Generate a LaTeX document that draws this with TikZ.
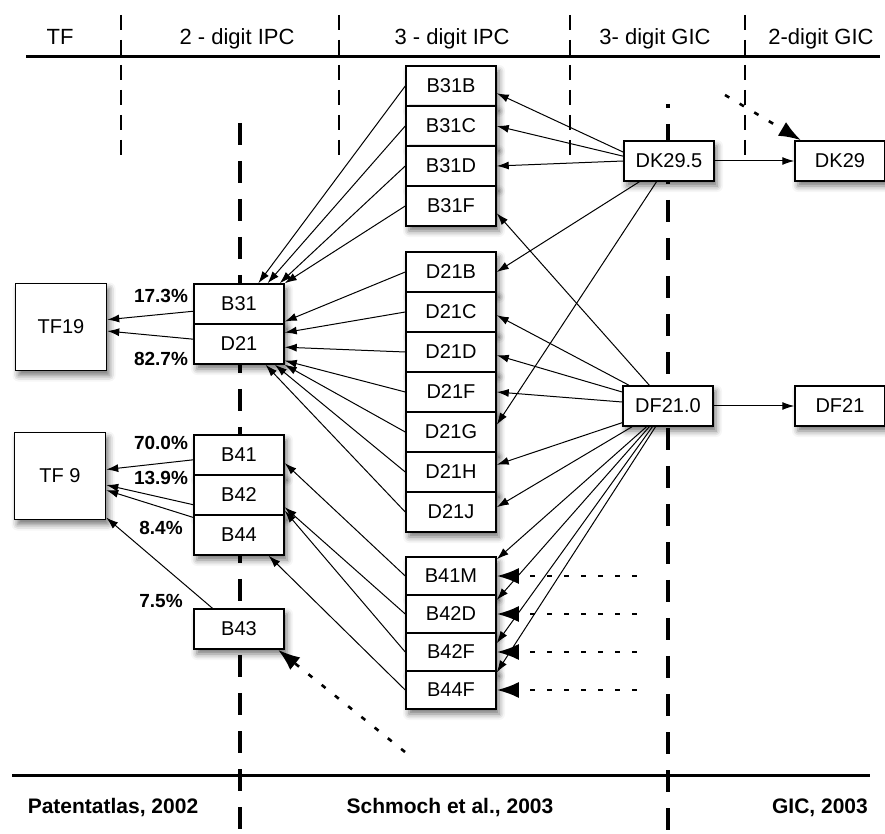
\documentclass[tikz,border=0pt]{standalone}
\usepackage{fontspec}
\setmainfont{Liberation Sans}
\usetikzlibrary{arrows.meta,shadows.blur}

\begin{document}
\begin{tikzpicture}[x=0.5pt,y=-0.5pt,node distance=20pt,
    cell/.style={draw,fill=white,line width=0.75pt,inner sep=0pt,
      minimum width=45pt,minimum height=20pt,font=\fontsize{10}{12}\selectfont,
      blur shadow={shadow xshift=1.5pt,shadow yshift=-2.5pt,shadow blur radius=3pt,shadow opacity=55}},
    low/.style={cell,minimum height=19pt,node distance=19pt},
    tf/.style={cell,minimum width=45.5pt,minimum height=43.5pt},
    arr/.style={line width=0.5pt,-{Latex[length=6pt,width=4pt]}},
    hint/.style={line width=1.3pt,dash pattern=on 2.5pt off 6pt,-{Latex[length=11pt,width=8pt]}},
    sep/.style={line width=1.4pt,dash pattern=on 7.5pt off 5pt},
    axis/.style={line width=2pt,dash pattern=on 11pt off 8pt},
    rule/.style={line width=1.5pt},
    head/.style={anchor=base,font=\fontsize{11}{13}\selectfont},
    src/.style={anchor=base,font=\bfseries\fontsize{10.5}{12}\selectfont},
    pct/.style={font=\bfseries\fontsize{9.5}{11}\selectfont}]

  \useasboundingbox (0,0) rectangle (885,834);

  % headers and rules
  \node[head] (hTF)   at (60,45)  {TF};
  \node[head] (hIPC2) at (237,45) {2 - digit IPC};
  \node[head] (hIPC3) at (452,45) {3 - digit IPC};
  \node[head] (hGIC3) at (655,45) {3- digit GIC};
  \node[head] (hGIC2) at (821,45) {2-digit GIC};

  \draw[rule] (26,57) -- (880,57);
  \draw[rule] (12,775) -- (870,775);
  \foreach \x in {121,339,570,745}
    \draw[sep] (\x,15) -- (\x,160);
  \draw[axis] (240,123) -- (240,834);
  \draw[axis,dash phase=9pt] (668,104) -- (668,834);

  \node[src] (sPA) at (113,813) {Patentatlas, 2002};
  \node[src] (sSC) at (450,813) {Schmoch et al., 2003};
  \node[src] (sGI) at (820,813) {GIC, 2003};

  % technology fields and 2-digit IPC
  \node[tf]   (TF19) at (61,327)  {TF19};
  \node[tf]   (TF9)  at (60,476)  {TF 9};
  \node[cell] (B31)  at (239,304) {B31};
  \node[cell] (D21)  [below of=B31] {D21};
  \node[cell] (B41)  at (239,455) {B41};
  \node[cell] (B42)  [below of=B41] {B42};
  \node[cell] (B44)  [below of=B42] {B44};
  \node[cell] (B43)  at (239,629) {B43};

  % 3-digit IPC
  \node[cell] (B31B) at (451,86)     {B31B};
  \node[cell] (B31C) [below of=B31B] {B31C};
  \node[cell] (B31D) [below of=B31C] {B31D};
  \node[cell] (B31F) [below of=B31D] {B31F};

  \node[cell] (D21B) at (451,272)    {D21B};
  \node[cell] (D21C) [below of=D21B] {D21C};
  \node[cell] (D21D) [below of=D21C] {D21D};
  \node[cell] (D21F) [below of=D21D] {D21F};
  \node[cell] (D21G) [below of=D21F] {D21G};
  \node[cell] (D21H) [below of=D21G] {D21H};
  \node[cell] (D21J) [below of=D21H] {D21J};

  \node[low]  (B41M) at (451,576)    {B41M};
  \node[low]  (B42D) [below of=B41M] {B42D};
  \node[low]  (B42F) [below of=B42D] {B42F};
  \node[low]  (B44F) [below of=B42F] {B44F};

  % GIC
  \node[cell] (DK295) at (669,161) {DK29.5};
  \node[cell] (DK29)  at (840,161) {DK29};
  \node[cell] (DF210) at (668,406) {DF21.0};
  \node[cell] (DF21)  at (840,406) {DF21};

  % shares
  \node[pct] (p173) at (161,296) {17.3\%};
  \node[pct] (p827) at (161,359) {82.7\%};
  \node[pct] (p700) at (161,443) {70.0\%};
  \node[pct] (p139) at (161,478) {13.9\%};
  \node[pct] (p84)  at (161,528) {8.4\%};
  \node[pct] (p75)  at (161,601) {7.5\%};

  \path[arr]
    (B31.189) edge (TF19.9)
    (D21.174) edge (TF19.355)
    (B41.186) edge (TF9.8)
    (B42.192) edge (TF9.349)
    (B44.159) edge (TF9.343)
    (B43.142) edge (TF9.318)

    (B31B.west) edge (B31.47)
    (B31C.west) edge (B31.36)
    (B31D.west) edge (B31.27)
    (B31F.west) edge (B31.north east)

    (D21B.west) edge (B31.339)
    (D21C.west) edge (D21.14)
    (D21D.west) edge (D21.356)
    (D21F.west) edge (D21.340)
    (D21G.west) edge (D21.south east)
    (D21H.west) edge (D21.330)
    (D21J.west) edge (D21.322)

    (B41M.west) edge (B41.350)
    (B42D.west) edge (B42.345)
    (B42F.west) edge (B42.341)
    (B44F.west) edge (B44.325)

    (DK295.169) edge (B31B.351)
    (DK295.174) edge (B31C.east)
    (DK295.west) edge (B31D.east)
    (DK295.215) edge (D21B.east)
    (DK295.239) edge (D21G.9)
    (DK295) edge (DK29)

    (DF210.132) edge (B31F.351)
    (DF210.152) edge (D21C.356)
    (DF210.163) edge (D21D.356)
    (DF210.175) edge (D21F.east)
    (DF210.200) edge (D21H.9)
    (DF210.210) edge (D21J.6)
    (DF210.224) edge (B41M.20)
    (DF210.228) edge (B42D.17)
    (DF210.233) edge (B42F.11)
    (DF210.239) edge (B44F.21)
    (DF210) edge (DF21);

  % dotted links
  \coordinate (gDK)  at (725,95);
  \coordinate (gB43) at (405,752);
  \draw[hint] (gDK) -- (DK29.152);
  \draw[hint] (gB43) -- (B43.332);
  \foreach \c in {B41M,B42D,B42F,B44F}{
    \coordinate (g\c) at ([xshift=70pt]\c.east);
    \draw[hint] (g\c) -- (\c.east);
  }
\end{tikzpicture}
\end{document}
